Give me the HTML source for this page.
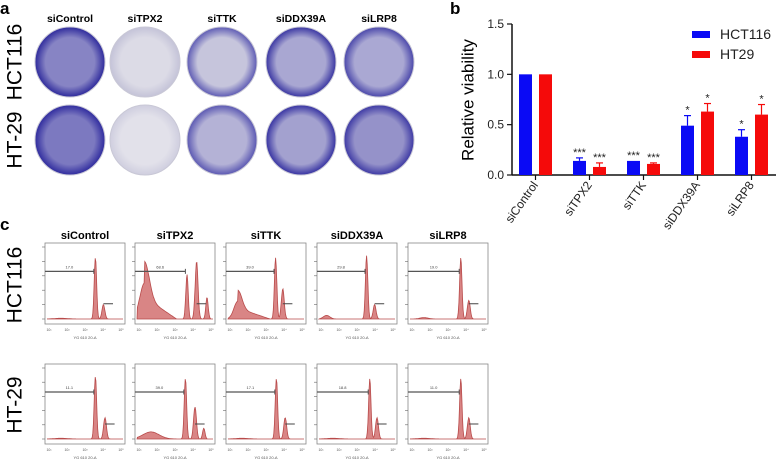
<!DOCTYPE html>
<html><head><meta charset="utf-8"><style>
body{margin:0;background:#fff}
svg{display:block;font-family:"Liberation Sans",Arial,sans-serif}
</style></head><body>
<svg id="fig" width="778" height="460" viewBox="0 0 778 460">
<defs id="defs"></defs>
<g id="panelA">
<text x="0" y="14" font-size="17" font-weight="bold">a</text>
<text x="15" y="62" font-size="21" text-anchor="middle" transform="rotate(-90 15 62)" dominant-baseline="central">HCT116</text>
<text x="15" y="140" font-size="21" text-anchor="middle" transform="rotate(-90 15 140)" dominant-baseline="central">HT-29</text>
</g>
<g id="panelB">
<text x="450" y="14" font-size="17" font-weight="bold">b</text>
<text x="468" y="100" font-size="17" text-anchor="middle" transform="rotate(-90 468 100)" dominant-baseline="central">Relative viability</text>
</g>
<g id="panelC">
<text x="0" y="230" font-size="17" font-weight="bold">c</text>
<text x="15" y="285" font-size="21" text-anchor="middle" transform="rotate(-90 15 285)" dominant-baseline="central">HCT116</text>
<text x="15" y="405" font-size="21" text-anchor="middle" transform="rotate(-90 15 405)" dominant-baseline="central">HT-29</text>
</g>
</svg>
<script>
const NS="http://www.w3.org/2000/svg";
function mk(tag,attrs,parent){const e=document.createElementNS(NS,tag);for(const k in attrs)e.setAttribute(k,attrs[k]);parent.appendChild(e);return e;}
const svg=document.getElementById('fig');
const defs=document.getElementById('defs');

// ---------- Panel b data ----------
const categories=["siControl","siTPX2","siTTK","siDDX39A","siLRP8"];
const hct116Values=[1.0,0.14,0.14,0.49,0.38];
const hct116Err=[0,0.03,0.0,0.10,0.07];
const ht29Values=[1.0,0.08,0.11,0.63,0.60];
const ht29Err=[0,0.04,0.01,0.08,0.10];
const hct116Sig=["","***","***","*","*"];
const ht29Sig=["","***","***","*","*"];
const yTicks=[0,0.5,1.0,1.5];
const yTickLabels=["0.0","0.5","1.0","1.5"];
const seriesNames=["HCT116","HT29"];

// ---------- Panel a ----------
const dishCols=[70,145,222,301,379];
const dishRows=[62,140];
const dishBase=[["#8784c4","#dcdbe6","#c6c5dc","#a9a7d2","#aaa8d3"],["#7c79c0","#e2e1ea","#b4b2d6","#a3a1cf","#9592c9"]];
const dishEdge=[["#2e2a9c","#c4c3d8","#5e5bb4","#3a36a2","#4a47aa"],["#2f2b9e","#cfcedf","#5a57b2","#3632a2","#3d39a4"]];
const pA=document.getElementById('panelA');
categories.forEach((c,i)=>{
  const t=mk('text',{x:dishCols[i],y:22,'font-size':10.5,'font-weight':'bold','text-anchor':'middle'},pA);
  t.textContent=c;
  
  
});
dishRows.forEach((cy,r)=>{
  dishCols.forEach((cx,i)=>{
    const id='g'+r+'_'+i;
    const g=mk('radialGradient',{id:id},defs);
    mk('stop',{offset:'0%','stop-color':dishBase[r][i]},g);
    mk('stop',{offset:'70%','stop-color':dishBase[r][i]},g);
    mk('stop',{offset:'100%','stop-color':dishEdge[r][i]},g);
    const c=mk('circle',{cx:cx,cy:cy,r:35,fill:'url(#'+id+')',stroke:'#c9c8d6','stroke-width':1},pA);
    
    
  });
});

// ---------- Panel b drawing ----------
const pB=document.getElementById('panelB');
const axX=512, axRight=776, y0=175, yTop=24;
const yScale=v=>y0-(v/1.5)*(y0-yTop);
const catCenter=i=>535.5+i*54;
const bw=13;
mk('line',{x1:axX,y1:yTop,x2:axX,y2:y0,stroke:'#111','stroke-width':1.5},pB);
mk('line',{x1:axX,y1:y0,x2:axRight,y2:y0,stroke:'#111','stroke-width':1.5},pB);
yTicks.forEach((v,i)=>{
  const y=yScale(v);
  const l=mk('line',{x1:axX-5,y1:y,x2:axX,y2:y,stroke:'#111','stroke-width':1.2},pB);
  
  const t=mk('text',{x:axX-8,y:y+4,'font-size':12,'text-anchor':'end',fill:'#222'},pB);
  t.textContent=yTickLabels[i];
  
  
});
categories.forEach((c,i)=>{
  const cx=catCenter(i);
  const l=mk('line',{x1:cx,y1:y0,x2:cx,y2:y0+5,stroke:'#111','stroke-width':1.2},pB);
  
  const t=mk('text',{x:cx+3,y:y0+10,'font-size':12,'text-anchor':'end',transform:'rotate(-55 '+(cx+3)+' '+(y0+10)+')',fill:'#222'},pB);
  t.textContent=c;
  
  
  const series=[[hct116Values,hct116Err,hct116Sig,'#0a0af5',-10],[ht29Values,ht29Err,ht29Sig,'#f50a0a',10]];
  series.forEach((s,k)=>{
    const v=s[0][i], e=s[1][i], bx=cx+s[4]-bw/2, y=yScale(v);
    const r=mk('rect',{x:bx,y:y,width:bw,height:y0-y,fill:s[3]},pB);
    
    
    if(e>0){
      const ye=yScale(v+e);
      mk('line',{x1:cx+s[4],y1:y,x2:cx+s[4],y2:ye,stroke:s[3],'stroke-width':1.2},pB);
      mk('line',{x1:cx+s[4]-3.5,y1:ye,x2:cx+s[4]+3.5,y2:ye,stroke:s[3],'stroke-width':1.2},pB);
    }
    if(s[2][i]){
      const st=mk('text',{x:cx+s[4],y:yScale(v+e)-2,'font-size':11,'text-anchor':'middle',fill:'#222'},pB);
      st.textContent=s[2][i];
      
      
    }
  });
});
[['#0a0af5',31],['#f50a0a',51]].forEach((s,i)=>{
  const r=mk('rect',{x:692,y:s[1],width:18,height:7,fill:s[0]},pB);
  
  
  const t=mk('text',{x:720,y:s[1]+8,'font-size':14,fill:'#222'},pB);
  t.textContent=seriesNames[i];
  
  
});

// ---------- Panel c ----------
const pC=document.getElementById('panelC');
const boxLeft=[45,135,226,317,408];
const boxW=80;
const boxY=[[243,324],[364,444]];
const histParams=[
 [[0.2,0.01,0.08,0.63,0.85,0.73,0.2,0,0],[0.12,0.5,0.06,0.65,0.62,0.77,0.8,0.9,0.3],[0.15,0.25,0.05,0.62,0.85,0.71,0.42,0,0],[0.12,0.05,0.04,0.62,0.88,0.72,0.2,0,0],[0.2,0.02,0.05,0.66,0.85,0.76,0.26,0,0]],
 [[0.2,0.01,0.08,0.63,0.88,0.75,0.3,0,0],[0.2,0.1,0.1,0.63,0.85,0.75,0.45,0.86,0.15],[0.2,0.01,0.08,0.63,0.85,0.74,0.3,0,0],[0.2,0.01,0.08,0.66,0.85,0.75,0.3,0,0],[0.2,0.01,0.08,0.66,0.85,0.76,0.3,0,0]]
];
const gateLabels=[["17.0","68.6","39.0","29.8","19.0"],["11.1","39.0","17.1","18.8","11.0"]];
categories.forEach((c,i)=>{
  const t=mk('text',{x:boxLeft[i]+boxW/2,y:239,'font-size':11,'font-weight':'bold','text-anchor':'middle'},pC);
  t.textContent=c;
  
  
});
function gauss(x,m,s){return Math.exp(-((x-m)*(x-m))/(2*s*s));}
boxY.forEach((by,r)=>{
  boxLeft.forEach((x1,i)=>{
    const x2=x1+boxW,yT=by[0],yB=by[1];
    const w=boxW,h=yB-yT;
    const frame=mk('rect',{x:x1,y:yT,width:w,height:h,fill:'#fff',stroke:'#888','stroke-width':0.8},pC);
    
    
    for(let k=0;k<6;k++){
      const ty=yB-5-k*(h-9)/5;
      mk('line',{x1:x1-3,y1:ty,x2:x1,y2:ty,stroke:'#666','stroke-width':0.6},pC);
    }
    const base=yB-5, top=yT+4;
    const p=histParams[r][i];
    let d='M'+(x1+2)+','+base;
    for(let k=0;k<=120;k++){
      const f=0.03+k/120*0.92;
      let v=p[1]*gauss(f,p[0],p[2])+(p[1]>0.2?p[1]*0.6*Math.max(0,1-(f-p[0])/0.4)*(f>p[0]?1:0):0);
      v+=p[4]*gauss(f,p[3],0.015)+p[6]*gauss(f,p[5],0.018);
      if(p[8])v+=p[8]*gauss(f,p[7],0.015);
      v=Math.min(v,1);
      d+=' L'+(x1+f*w).toFixed(1)+','+(base-v*(base-top)).toFixed(1);
    }
    d+=' L'+(x2-2)+','+base+' Z';
    const hp=mk('path',{d:d,fill:'#d98585',stroke:'#b84a4a','stroke-width':0.8},pC);
    
    
    const gy=yT+h*0.35, gx2=x1+w*(p[3]-0.02);
    mk('line',{x1:x1,y1:gy,x2:gx2,y2:gy,stroke:'#555','stroke-width':1.2},pC);
    mk('line',{x1:gx2,y1:gy-2.5,x2:gx2,y2:gy+2.5,stroke:'#555','stroke-width':1},pC);
    const gl=mk('text',{x:(x1+gx2)/2,y:gy-3,'font-size':4,'text-anchor':'middle',fill:'#444'},pC);
    gl.textContent=gateLabels[r][i];
    
    
    const g2x=x1+w*p[5];
    mk('line',{x1:g2x,y1:yB-h*0.25,x2:g2x+w*0.12,y2:yB-h*0.25,stroke:'#444','stroke-width':1},pC);
    const xl=mk('text',{x:(x1+x2)/2,y:yB+15,'font-size':4,'text-anchor':'middle',fill:'#555'},pC);
    xl.textContent='YG 610 20-A';
    
    
    for(let k=0;k<5;k++){
      const tx=mk('text',{x:x1+4+k*(w-8)/4,y:yB+7,'font-size':3.5,'text-anchor':'middle',fill:'#555'},pC);
      tx.textContent='10'+['¹','²','³','⁴','⁵'][k];
      
      
    }
  });
});
</script>
</body></html>
